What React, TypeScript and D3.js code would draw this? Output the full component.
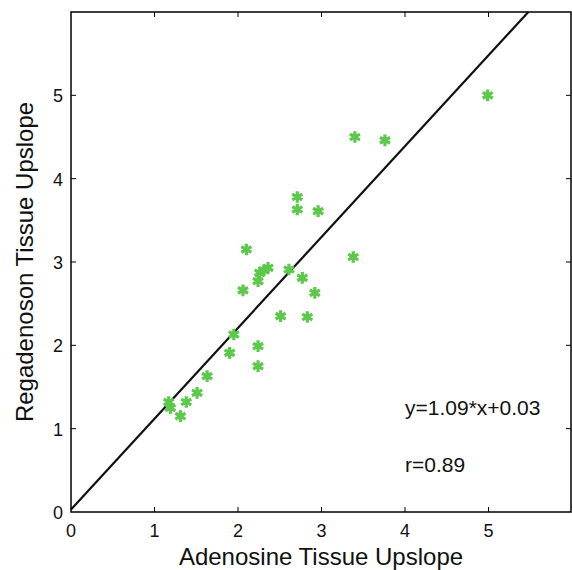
import React from "react";
import * as d3 from "d3";

// Adenosine vs Regadenoson tissue upslope
const adenosine = [
  4.99, 3.4, 3.76, 2.71, 2.71, 2.96, 2.1, 3.38, 2.36, 2.31, 2.26, 2.24, 2.61,
  2.77, 2.06, 2.92, 2.51, 2.83, 1.95, 2.24, 1.9, 2.24, 1.63, 1.51, 1.38, 1.17,
  1.19, 1.31,
];
const regadenoson = [
  5.0, 4.5, 4.46, 3.78, 3.63, 3.61, 3.15, 3.06, 2.93, 2.9, 2.87, 2.77, 2.91,
  2.81, 2.66, 2.63, 2.35, 2.34, 2.13, 1.99, 1.91, 1.75, 1.63, 1.43, 1.32, 1.32,
  1.25, 1.15,
];
const tickValues = [0, 1, 2, 3, 4, 5];
const slope = 1.09;
const intercept = 0.03;
const fitLabel = "y=1.09*x+0.03";
const rLabel = "r=0.89";

export default function App() {
  const width = 572;
  const height = 570;
  const left = 71;
  const right = 572;
  const top = 12;
  const bottom = 512;
  const font = "'Liberation Sans', Arial, Helvetica, sans-serif";

  const x = d3.scaleLinear().domain([0, 6]).range([left, right]);
  const y = d3.scaleLinear().domain([0, 6]).range([bottom, top]);

  const points = adenosine.map((a, i) => ({ a, r: regadenoson[i] }));

  // fit line clipped to the plot box
  const xEnd = (6 - intercept) / slope;
  const line = d3.line<number>()
    .x((d) => x(d))
    .y((d) => y(slope * d + intercept));
  const star = d3.symbol().type(d3.symbolAsterisk).size(95);

  const tk = 5;
  return (
    <svg width={width} height={height} style={{ position: "absolute", left: 0, top: 0 }}>
      <rect width={width} height={height} fill="#fff" />
      <g stroke="#000" strokeWidth={1}>
        {tickValues.slice(1).map((t) => (
          <g key={"x" + t}>
            <line x1={x(t)} x2={x(t)} y1={bottom} y2={bottom - tk} />
            <line x1={x(t)} x2={x(t)} y1={top} y2={top + tk} />
          </g>
        ))}
        {tickValues.slice(1).map((t) => (
          <g key={"y" + t}>
            <line x1={left} x2={left + tk} y1={y(t)} y2={y(t)} />
            <line x1={right - 1} x2={right - 1 - tk} y1={y(t)} y2={y(t)} />
          </g>
        ))}
      </g>
      <path d={line([0, xEnd]) || ""} fill="none" stroke="#111" strokeWidth={2.2} />
      <g stroke="#5cc84c" strokeWidth={3.2} fill="#5cc84c">
        {points.map((p, i) => (
          <g key={i} transform={`translate(${x(p.a)},${y(p.r)})`}>
            <circle r={2.5} stroke="none" />
            <path d={star() || ""} fill="none" />
          </g>
        ))}
      </g>
      <rect x={left} y={top} width={right - 1 - left} height={bottom - top} fill="none" stroke="#000" strokeWidth={1.5} />
      <g fontFamily={font} fontSize={18} fill="#111">
        {tickValues.map((t) => (
          <text key={"xl" + t} x={x(t)} y={537} textAnchor="middle">{t}</text>
        ))}
        {tickValues.map((t) => (
          <text key={"yl" + t} x={63} y={y(t) + 7} textAnchor="end">{t}</text>
        ))}
      </g>
      <g fontFamily={font} fontSize={21} fill="#111">
        <text x={405} y={415}>{fitLabel}</text>
        <text x={405} y={472}>{rLabel}</text>
      </g>
      <g fontFamily={font} fontSize={24} fill="#111">
        <text x={321} y={565} textAnchor="middle">Adenosine Tissue Upslope</text>
        <text transform={`translate(33,262) rotate(-90)`} textAnchor="middle">Regadenoson Tissue Upslope</text>
      </g>
    </svg>
  );
}
